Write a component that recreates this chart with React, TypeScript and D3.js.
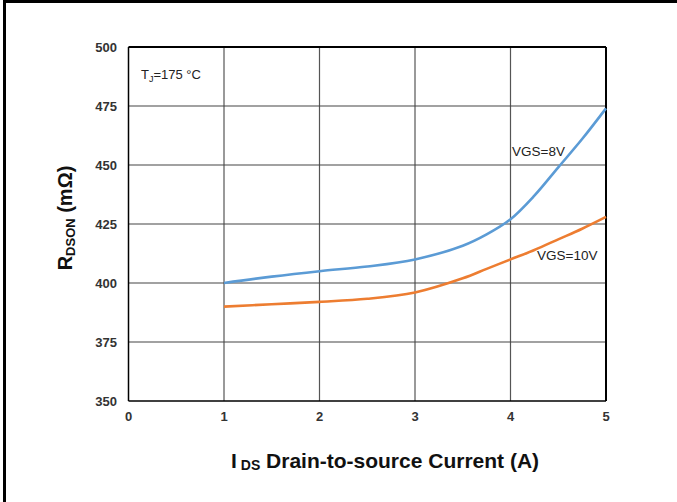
import React from "react";
import * as d3 from "d3";

const xTicks = [0, 1, 2, 3, 4, 5];
const yTicks = [350, 375, 400, 425, 450, 475, 500];
const currents = [1, 1.5, 2, 2.5, 3, 3.5, 3.75, 4, 4.25, 4.5, 4.75, 5];
const vgs8 = [400, 402.7, 405, 407, 410, 415.8, 420.6, 427, 437, 449, 461, 474];
const vgs10 = [390, 391, 392, 393.3, 396, 402, 406, 410, 414, 418.5, 423, 428];

const W = 677;
const H = 502;
const font = "Arial, 'Liberation Sans', sans-serif";

export default function App() {
  const x = d3.scaleLinear().domain([0, 5]).range([128.5, 606]);
  const y = d3.scaleLinear().domain([350, 500]).range([401, 47]);
  const line = d3
    .line<number>()
    .x((_, i) => x(currents[i]))
    .y((d) => y(d))
    .curve(d3.curveCatmullRom.alpha(0.5));

  return (
    <svg
      width={W}
      height={H}
      style={{ position: "absolute", left: 0, top: 0, background: "#fff" }}
      fontFamily={font}
    >
      <rect x={0} y={0} width={W} height={H} fill="#fff" />
      {/* outer frame (top and left) */}
      <line x1={3} x2={W} y1={1.5} y2={1.5} stroke="#000" strokeWidth={3} />
      <line x1={4.5} x2={4.5} y1={0} y2={H} stroke="#000" strokeWidth={3} />

      {/* grid */}
      {xTicks.slice(1, -1).map((t) => (
        <line key={"gx" + t} x1={x(t)} x2={x(t)} y1={y(500)} y2={y(350)} stroke="#555" strokeWidth={1.2} />
      ))}
      {yTicks.slice(1, -1).map((t) => (
        <line key={"gy" + t} x1={x(0)} x2={x(5)} y1={y(t)} y2={y(t)} stroke="#444" strokeWidth={1.2} />
      ))}
      {/* plot border */}
      <line x1={x(0)} x2={x(5)} y1={y(500)} y2={y(500)} stroke="#000" strokeWidth={2} />
      <line x1={x(5)} x2={x(5)} y1={y(500)} y2={y(350)} stroke="#000" strokeWidth={2} />
      <line x1={x(0)} x2={x(0)} y1={y(500)} y2={y(350)} stroke="#000" strokeWidth={1.5} />
      <line x1={x(0)} x2={x(5)} y1={y(350)} y2={y(350)} stroke="#000" strokeWidth={1.5} />

      {/* curves */}
      <path d={line(vgs10) || ""} fill="none" stroke="#ED7D31" strokeWidth={2.6} />
      <path d={line(vgs8) || ""} fill="none" stroke="#5B9BD5" strokeWidth={2.6} />

      {/* tick labels */}
      {yTicks.map((t) => (
        <text key={"yl" + t} x={117} y={y(t) + 4.5} textAnchor="end" fontSize={13} fontWeight="bold" fill="#333">
          {t}
        </text>
      ))}
      {xTicks.map((t) => (
        <text key={"xl" + t} x={x(t)} y={421} textAnchor="middle" fontSize={13} fontWeight="bold" fill="#333">
          {t}
        </text>
      ))}

      {/* annotations */}
      <text x={141} y={79} fontSize={13} fill="#222">
        T<tspan fontSize={9} dy={3}>J</tspan>
        <tspan dy={-3}>=175 °C</tspan>
      </text>
      <text x={512} y={156} fontSize={13.5} fill="#222">VGS=8V</text>
      <text x={537} y={260} fontSize={13.5} fill="#222">VGS=10V</text>

      {/* axis titles */}
      <text x={385} y={468} textAnchor="middle" fontSize={21} fontWeight="bold" fill="#111">
        I<tspan fontSize={14} dx={4} dy={2}>DS</tspan>
        <tspan dy={-2}> Drain-to-source Current (A)</tspan>
      </text>
      <text
        transform={`translate(72, 218) rotate(-90)`}
        textAnchor="middle"
        fontSize={20}
        fontWeight="bold"
        fill="#111"
      >
        R<tspan fontSize={13} dy={3}>DSON</tspan>
        <tspan dy={-3}> (mΩ)</tspan>
      </text>
    </svg>
  );
}
